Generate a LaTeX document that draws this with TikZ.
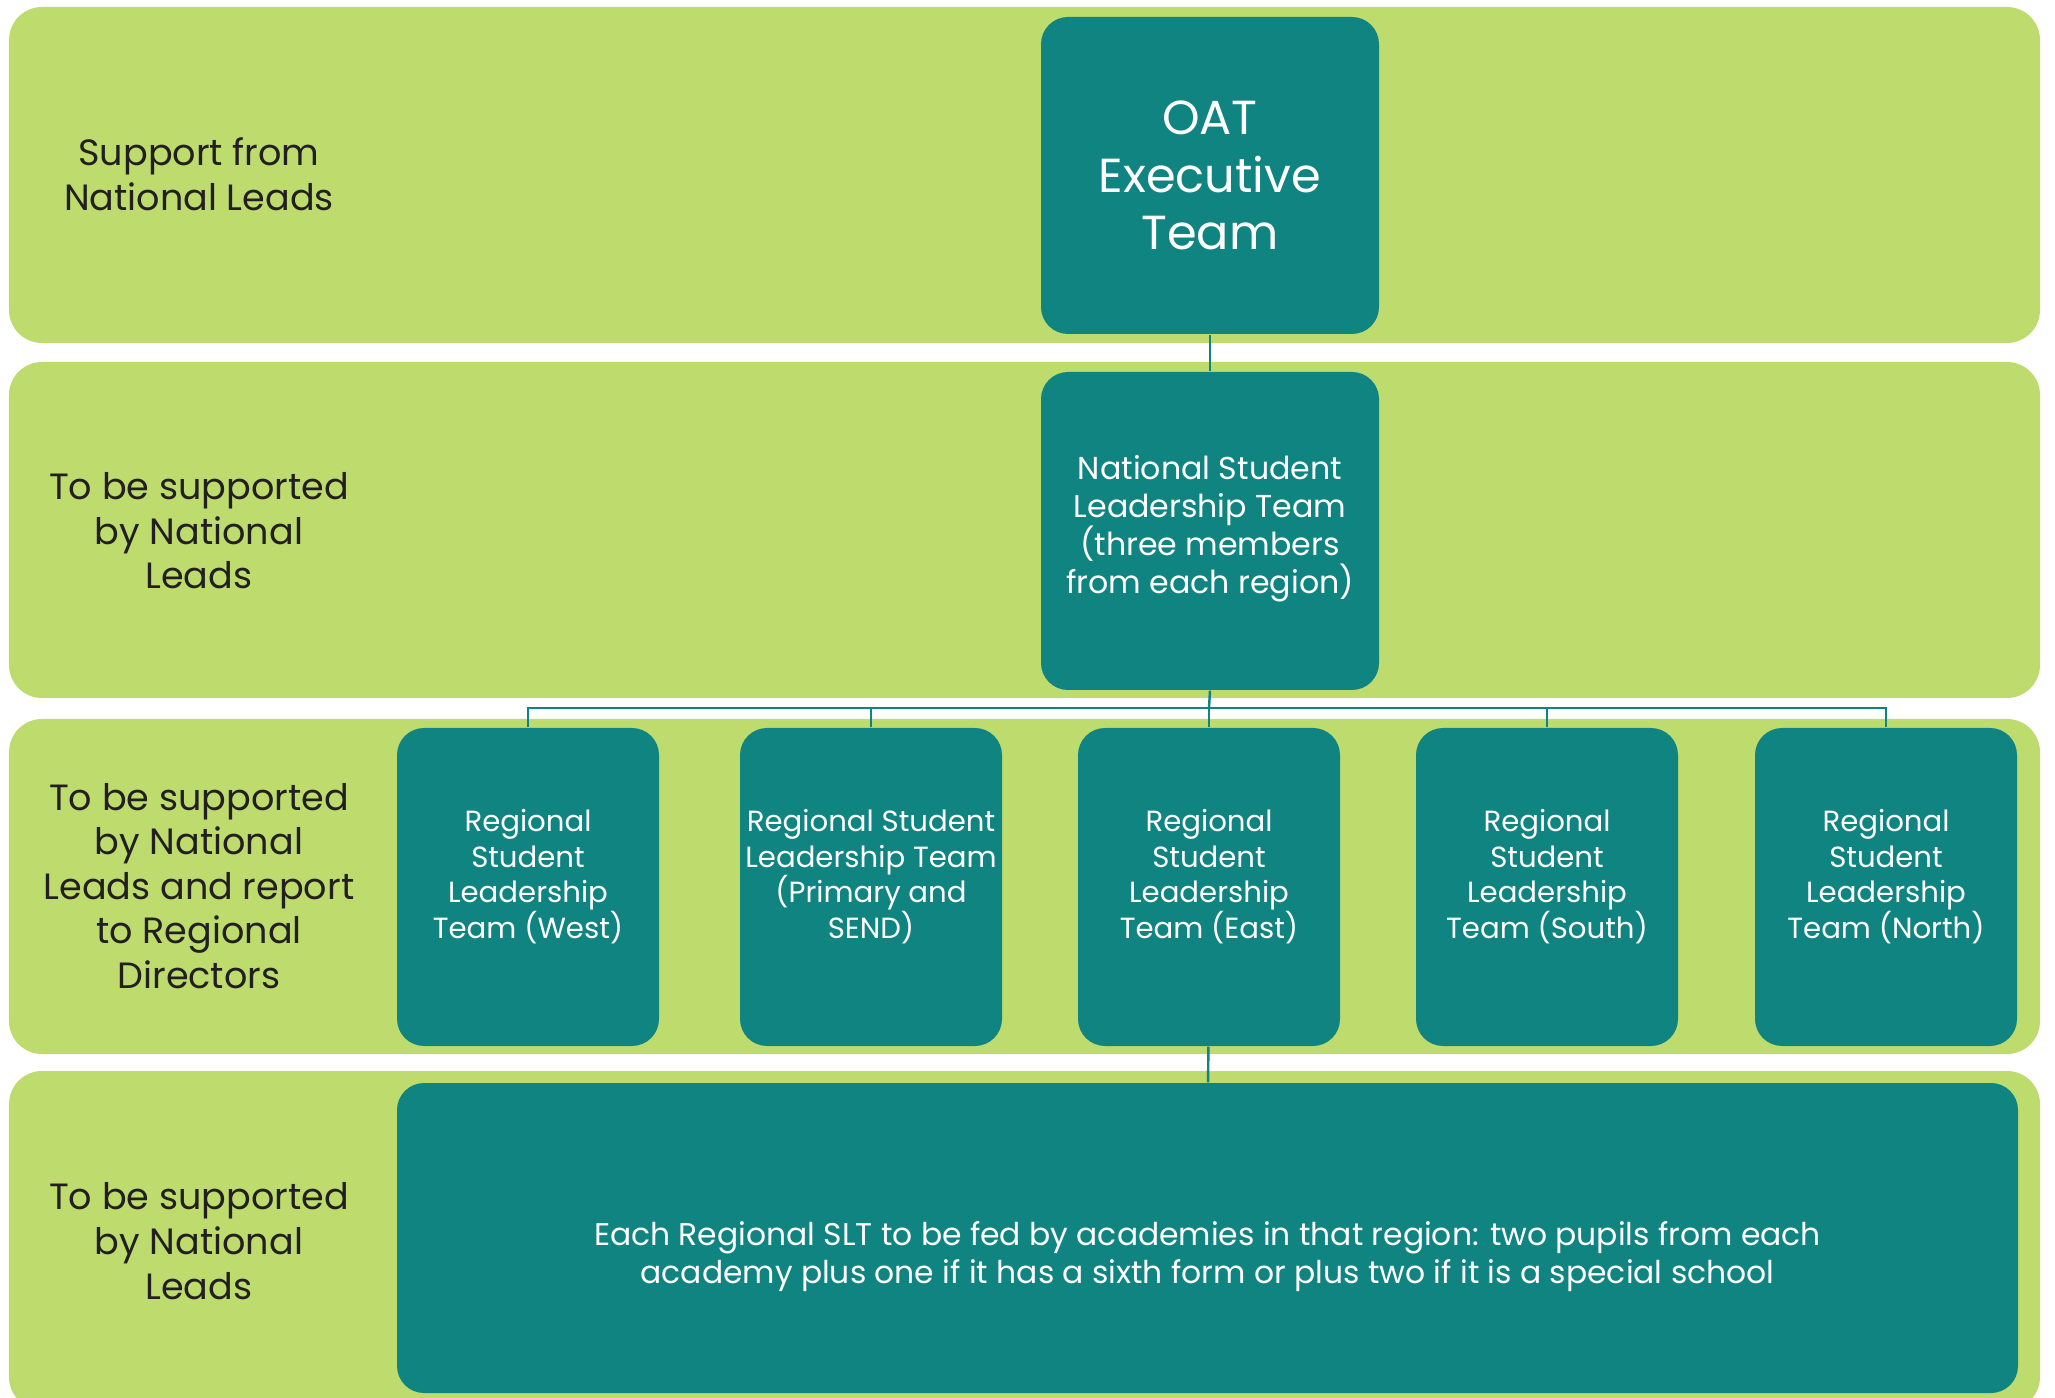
\documentclass[tikz,border=0pt]{standalone}
\usepackage{fontspec}
\setmainfont{Poppins}
\usetikzlibrary{positioning}

\definecolor{bandgreen}{RGB}{190,219,110}
\definecolor{oatteal}{RGB}{16,132,129}
\definecolor{labelgrey}{RGB}{35,31,32}

\tikzset{
    band/.style={fill=bandgreen,rounded corners=0.33cm},
    team/.style={rectangle,rounded corners=0.27cm,fill=oatteal,text=white,align=center,inner sep=0pt},
    region/.style={team,minimum width=2.62cm,minimum height=3.18cm,
        font=\fontsize{8.3}{10.1}\selectfont},
    tier/.style={align=center,text=labelgrey,font=\fontsize{10.4}{12.7}\selectfont},
    link/.style={draw=oatteal,line width=0.7pt}
}

\begin{document}
\begin{tikzpicture}
\useasboundingbox (0,0) rectangle (20.55,-13.98);
\clip (0,0) rectangle (20.55,-13.98);

% background bands
\fill[band] (0.09,-0.07) rectangle (20.40,-3.43);
\fill[band] (0.09,-3.62) rectangle (20.40,-6.98);
\fill[band] (0.09,-7.19) rectangle (20.40,-10.54);
\fill[band] (0.09,-10.71) rectangle (20.40,-14.10);

% tier labels
\node (t1) at (1.99,-1.74) [tier] {Support from\\National Leads};
\node (t2) at (1.99,-5.31) [tier] {To be supported\\by National\\Leads};
\node (t3) at (1.99,-8.86) [tier] {To be supported\\by National\\Leads and report\\to Regional\\Directors};
\node (t4) at (1.99,-12.41) [tier] {To be supported\\by National\\Leads};

% teams
\node (exec) at (12.10,-1.755) [team,minimum width=3.38cm,minimum height=3.17cm,
    font=\fontsize{13.6}{16.4}\selectfont] {OAT\\Executive\\Team};
\node (nat) at (12.10,-5.31) [team,minimum width=3.38cm,minimum height=3.18cm,
    font=\fontsize{9}{10.8}\selectfont] {National Student\\Leadership Team\\(three members\\from each region)\\[-7.1pt]};

\node (west)  at (5.28,-8.87)  [region] {Regional\\Student\\Leadership\\Team (West)\\[-2.6pt]};
\node (prim)  at (8.71,-8.87)  [region] {Regional Student\\Leadership Team\\(Primary and\\SEND)\\[-2.6pt]};
\node (east)  at (12.09,-8.87) [region] {Regional\\Student\\Leadership\\Team (East)\\[-2.6pt]};
\node (south) at (15.47,-8.87) [region] {Regional\\Student\\Leadership\\Team (South)\\[-2.6pt]};
\node (north) at (18.86,-8.87) [region] {Regional\\Student\\Leadership\\Team (North)\\[-2.6pt]};

\node (feed) at (12.075,-12.38) [team,minimum width=16.21cm,minimum height=3.10cm,
    font=\fontsize{8.93}{10.8}\selectfont] {\mbox{}\\[6.7pt]Each Regional SLT to be fed by academies in that region: two pupils from each\\academy plus one if it has a sixth form or plus two if it is a special school};

% connectors
\coordinate (split) at (12.09,-7.08);
\draw[link] (exec) -- (nat);
\draw[link] (nat.south) -- (split);
\draw[link] (west.north) |- (split) -| (north.north);
\draw[link] (prim.north) |- (split);
\draw[link] (east.north) -- (split);
\draw[link] (south.north) |- (split);
\draw[link] (east) -- (feed);
\end{tikzpicture}
\end{document}
